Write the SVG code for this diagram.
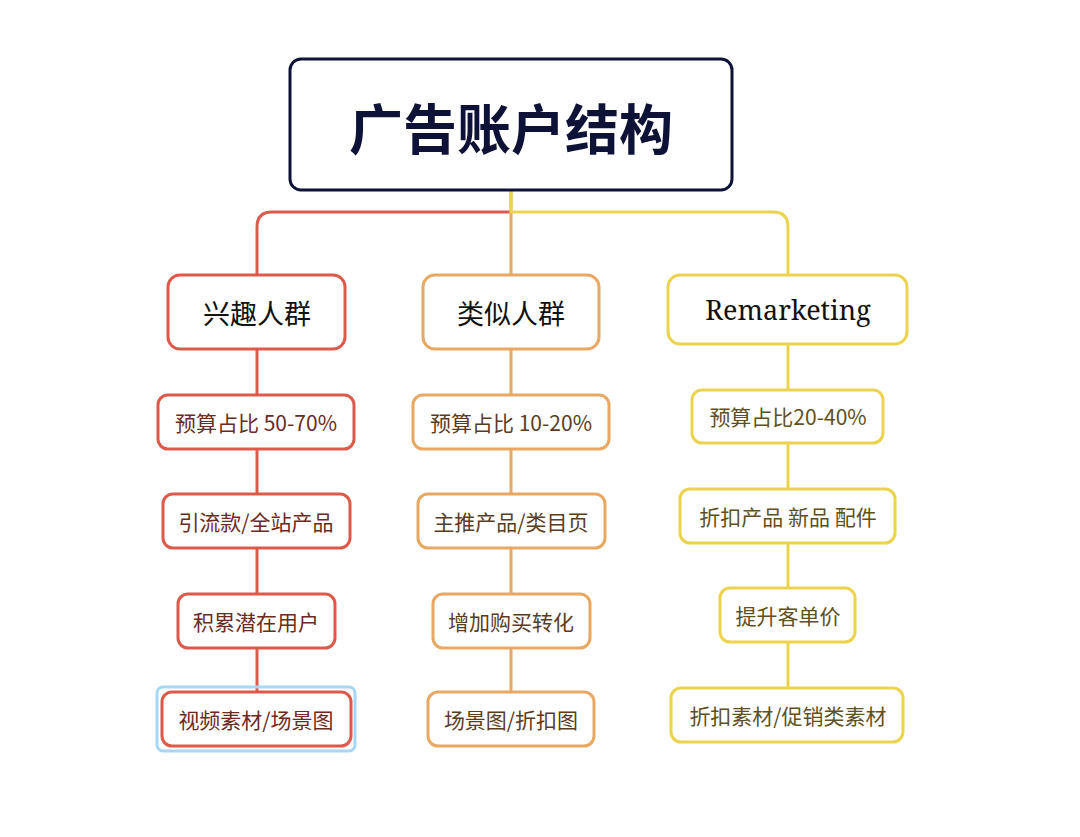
<svg xmlns="http://www.w3.org/2000/svg" width="1080" height="837" viewBox="0 0 1080 837">
<style>
.b{fill:#fff;stroke-width:3}
.r{stroke:#dd5a4a}.o{stroke:#e8a862}.y{stroke:#ecd34e}
.t{font-family:"Noto Sans CJK SC","Noto Sans",sans-serif;text-anchor:middle;dominant-baseline:central}
.l1{font-size:27px;fill:#111}
.l2{font-size:21px}
.tr{fill:#6b2a22}.to{fill:#5a3c1e}.ty{fill:#5e5020}
.c{fill:none;stroke-width:3}
</style>
<rect width="1080" height="837" fill="#fff"/>
<g id="connectors">
<path class="c r" d="M511 212 H272 Q257 212 257 227 V692"/>
<path class="c o" d="M511 190 V692"/>
<path class="c y" d="M511 190 V212 H773 Q788 212 788 227 V688"/>
</g>
<g id="root"><rect x="290" y="59" width="442" height="131" rx="11" fill="#fff" stroke="#0e1236" stroke-width="3"/>
<text class="t" x="511" y="126" font-size="54" font-weight="bold" fill="#0e1236">广告账户结构</text></g>
<g id="n1"><rect class="b r" x="168" y="275" width="177" height="74" rx="12"/><text class="t l1" x="257" y="312">兴趣人群</text></g>
<g id="n2"><rect class="b o" x="423" y="275" width="176" height="74" rx="12"/><text class="t l1" x="511" y="312">类似人群</text></g>
<g id="n3"><rect class="b y" x="668" y="275" width="239" height="69" rx="12"/><text x="788" y="309" font-family="'Noto Serif','DejaVu Serif',serif" font-size="27" text-anchor="middle" dominant-baseline="central" fill="#111">Remarketing</text></g>
<g id="r2"><rect class="b r" x="158" y="395" width="196" height="54" rx="10"/><text class="t l2 tr" x="256" y="422">预算占比 50-70%</text></g>
<g id="r3"><rect class="b r" x="163" y="494" width="187" height="54" rx="10"/><text class="t l2 tr" x="256" y="521">引流款/全站产品</text></g>
<g id="r4"><rect class="b r" x="178" y="594" width="157" height="54" rx="10"/><text class="t l2 tr" x="256" y="621">积累潜在用户</text></g>
<g id="r5"><rect x="157" y="687" width="198" height="64" rx="6" fill="none" stroke="#a6d8f5" stroke-width="3"/><rect class="b r" x="162" y="692" width="189" height="54" rx="10"/><text class="t l2 tr" x="256" y="719">视频素材/场景图</text></g>
<g id="o2"><rect class="b o" x="413" y="395" width="196" height="54" rx="10"/><text class="t l2 to" x="511" y="422">预算占比 10-20%</text></g>
<g id="o3"><rect class="b o" x="418" y="494" width="187" height="54" rx="10"/><text class="t l2 to" x="511" y="521">主推产品/类目页</text></g>
<g id="o4"><rect class="b o" x="433" y="594" width="157" height="54" rx="10"/><text class="t l2 to" x="511" y="621">增加购买转化</text></g>
<g id="o5"><rect class="b o" x="428" y="692" width="166" height="54" rx="10"/><text class="t l2 to" x="511" y="719">场景图/折扣图</text></g>
<g id="y2"><rect class="b y" x="692" y="390" width="191" height="53" rx="10"/><text class="t l2 ty" x="788" y="416">预算占比20-40%</text></g>
<g id="y3"><rect class="b y" x="680" y="489" width="215" height="54" rx="10"/><text class="t l2 ty" x="788" y="516">折扣产品 新品 配件</text></g>
<g id="y4"><rect class="b y" x="720" y="588" width="135" height="54" rx="10"/><text class="t l2 ty" x="788" y="615">提升客单价</text></g>
<g id="y5"><rect class="b y" x="671" y="688" width="232" height="54" rx="10"/><text class="t l2 ty" x="788" y="715">折扣素材/促销类素材</text></g>
</svg>
